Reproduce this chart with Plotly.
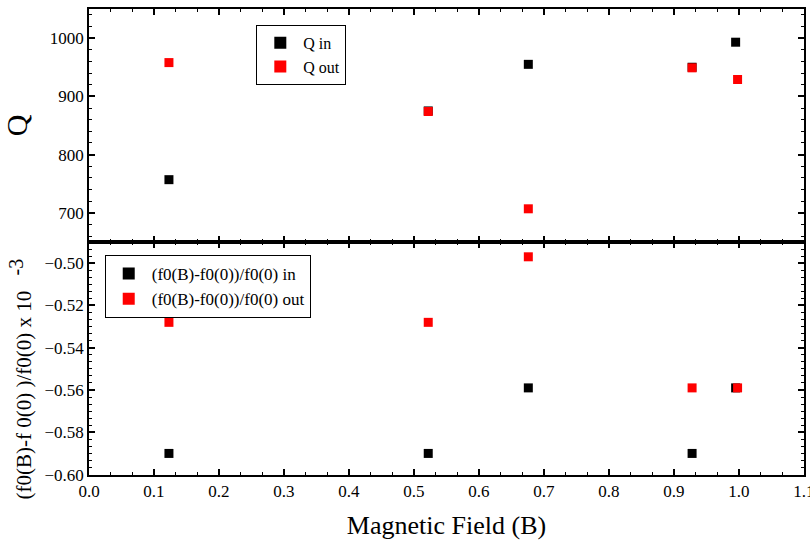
import plotly.graph_objects as go
from plotly.subplots import make_subplots

field_in = [0.123, 0.522, 0.676, 0.928, 0.995]
field_out = [0.123, 0.522, 0.676, 0.928, 0.998]
q_in = [757, 875, 955, 950, 993]
q_out = [958, 874, 707, 949, 929]
df_in = [-0.590, -0.590, -0.559, -0.590, -0.559]
df_out = [-0.528, -0.528, -0.497, -0.559, -0.559]

FONT = "Liberation Serif"

fig = make_subplots(rows=2, cols=1, shared_xaxes=True, vertical_spacing=0)

mk = dict(symbol="square", size=9)
fig.add_trace(go.Scatter(x=field_in, y=q_in, mode="markers", name="Q in",
                         marker=dict(color="black", **mk), legend="legend"), row=1, col=1)
fig.add_trace(go.Scatter(x=field_out, y=q_out, mode="markers", name="Q out",
                         marker=dict(color="red", **mk), legend="legend"), row=1, col=1)
fig.add_trace(go.Scatter(x=field_in, y=df_in, mode="markers", name="(f0(B)-f0(0))/f0(0) in",
                         marker=dict(color="black", **mk), legend="legend2"), row=2, col=1)
fig.add_trace(go.Scatter(x=field_out, y=df_out, mode="markers", name="(f0(B)-f0(0))/f0(0) out",
                         marker=dict(color="red", **mk), legend="legend2"), row=2, col=1)

axis_common = dict(showline=True, linecolor="black", linewidth=1.5, mirror="ticks",
                   ticks="inside", ticklen=6, tickwidth=1.5, tickcolor="black",
                   showgrid=False, zeroline=False, ticklabeloverflow="allow", automargin=False,
                   tickfont=dict(family=FONT, size=17, color="black"))

fig.update_xaxes(**axis_common, range=[0, 1.1002], dtick=0.1, tick0=0, tickformat=".1f",
                 minor=dict(dtick=0.1/3, ticklen=3, ticks="inside", tickcolor="black", tickwidth=1))
fig.update_xaxes(showticklabels=False, row=1, col=1)
fig.update_xaxes(title=dict(text="Magnetic Field (B)", font=dict(family=FONT, size=26, color="black"),
                            standoff=16), row=2, col=1)

fig.update_yaxes(**axis_common)
fig.update_yaxes(range=[650, 1050], dtick=100, tick0=0,
                 minor=dict(dtick=20, ticklen=3, ticks="inside", tickcolor="black", tickwidth=1),
                 title=dict(text="Q", font=dict(family=FONT, size=30, color="black"), standoff=18),
                 row=1, col=1)
fig.update_yaxes(range=[-0.6002, -0.49], dtick=0.02, tick0=-0.60, tickformat=".2f",
                 minor=dict(dtick=0.02/6, tick0=-0.60, ticklen=3, ticks="inside", tickcolor="black", tickwidth=1),
                 row=2, col=1)

fig.add_annotation(
    text="(f0(B)-f 0(0) )/f0(0) x 10 <sup><span style='font-size:20px'>  -3</span></sup>",
    xref="paper", yref="paper", x=-0.095, y=0.205, xanchor="center", yanchor="middle",
    textangle=-90, showarrow=False, font=dict(family=FONT, size=21, color="black"))

fig.update_layout(
    width=810, height=542,
    margin=dict(l=89, r=6, t=9, b=67),
    paper_bgcolor="white", plot_bgcolor="white",
    font=dict(family=FONT, color="black"),
    legend=dict(x=0.234, y=0.966, xanchor="left", yanchor="top",
                bordercolor="black", borderwidth=1, bgcolor="white",
                font=dict(family=FONT, size=16, color="black"),
                itemsizing="constant", itemwidth=36, tracegroupgap=0),
    legend2=dict(x=0.022, y=0.472, xanchor="left", yanchor="top",
                 bordercolor="black", borderwidth=1, bgcolor="white",
                 font=dict(family=FONT, size=17, color="black"),
                 itemsizing="constant", itemwidth=36, tracegroupgap=0),
)

fig.write_html("out.html")
